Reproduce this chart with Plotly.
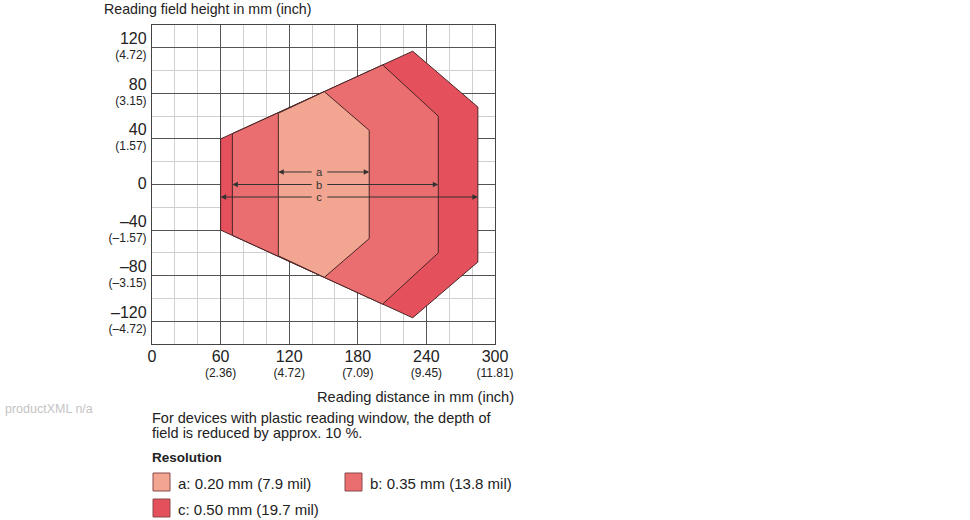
import plotly.graph_objects as go

# ---------------- data ----------------
# reading field outlines (distance mm, field height mm) per resolution
res_names = ["a", "b", "c"]
res_labels = ["a: 0.20 mm (7.9 mil)", "b: 0.35 mm (13.8 mil)", "c: 0.50 mm (19.7 mil)"]
dist_a = [110.5, 150.7, 190.0, 190.0, 150.7, 110.5]
height_a = [62.6, 81.5, 47.5, -47.5, -81.5, -62.6]
dist_b = [70.3, 201.7, 250.4, 250.4, 201.7, 70.3]
height_b = [44.6, 105.0, 60.0, -60.0, -105.0, -44.6]
dist_c = [60.0, 228.0, 285.0, 285.0, 228.0, 60.0]
height_c = [40.0, 117.0, 68.0, -68.0, -117.0, -40.0]

x_tick_vals = [0, 60, 120, 180, 240, 300]
x_tick_inch = ["", "(2.36)", "(4.72)", "(7.09)", "(9.45)", "(11.81)"]
y_tick_vals = [-120, -80, -40, 0, 40, 80, 120]
y_tick_mm = ["–120", "–80", "–40", "0", "40", "80", "120"]
y_tick_inch = ["(–4.72)", "(–3.15)", "(–1.57)", "", "(1.57)", "(3.15)", "(4.72)"]

# ---------------- style ----------------
W, H = 970, 520
ML, MR, MT, MB = 152, 475, 25, 176
PW, PH = W - ML - MR, H - MT - MB
FONT = "Liberation Sans"
TXT = "#222222"
colors = {"a": "#F2A590", "b": "#EA6E70", "c": "#E4505B"}
EDGE = "#4a2626"
MAJOR = "#555555"
MINOR = "#d0d0d0"


def px(x):
    return (x - ML) / PW


def py(y):
    return (H - MB - y) / PH


def tick_text(main, inch):
    if inch:
        return (f"<span style='font-size:16px'>{main}</span><br>"
                f"<span style='font-size:12px'>{inch}</span>")
    return f"<span style='font-size:16px'>{main}</span>"


fig = go.Figure()
shapes_data = {"a": (dist_a, height_a), "b": (dist_b, height_b), "c": (dist_c, height_c)}
for name in ["c", "b", "a"]:
    xs, ys = shapes_data[name]
    fig.add_trace(go.Scatter(
        x=xs + [xs[0]], y=ys + [ys[0]], mode="lines", fill="toself",
        fillcolor=colors[name], line=dict(color=EDGE, width=1),
        showlegend=False, hoverinfo="skip"))

annotations = []
# dimension arrows
arrow_y = {"a": 11, "b": 0, "c": -11}
label_x = 146.5
gap = 5.5
for name in res_names:
    xs, _ = shapes_data[name]
    x0, x1 = min(xs), max(xs)
    yv = arrow_y[name]
    for tip, tail in ((x0, label_x - gap), (x1, label_x + gap)):
        annotations.append(dict(
            x=tip, y=yv, ax=tail, ay=yv, xref="x", yref="y", axref="x", ayref="y",
            text="", showarrow=True, arrowhead=2, arrowsize=1.1, arrowwidth=1,
            arrowcolor="#333333", standoff=0, startstandoff=0))
# the three labels a / b / c stacked in one text block
annotations.append(dict(
    x=label_x, y=arrow_y["b"], xref="x", yref="y",
    text="<br>".join(f"<span style='font-size:11.2px'>{n}</span>" for n in res_names),
    showarrow=False, font=dict(family=FONT, size=9.73, color="#333333"),
    xanchor="center", yanchor="middle", borderpad=0))

# titles and notes
annotations += [
    dict(x=px(102), y=py(9), xref="paper", yref="paper", text="Reading field height in mm (inch)",
         showarrow=False, xanchor="left", yanchor="middle", font=dict(family=FONT, size=14.2, color=TXT)),
    dict(x=px(516), y=py(397), xref="paper", yref="paper", text="Reading distance in mm (inch)",
         showarrow=False, xanchor="right", yanchor="middle", font=dict(family=FONT, size=14.6, color=TXT)),
    dict(x=px(150), y=py(418), xref="paper", yref="paper",
         text="For devices with plastic reading window, the depth of",
         showarrow=False, xanchor="left", yanchor="middle", align="left",
         font=dict(family=FONT, size=14.5, color=TXT)),
    dict(x=px(150), y=py(433), xref="paper", yref="paper",
         text="field is reduced by approx. 10 %.",
         showarrow=False, xanchor="left", yanchor="middle", align="left",
         font=dict(family=FONT, size=14.5, color=TXT)),
    dict(x=px(150), y=py(458), xref="paper", yref="paper", text="<b>Resolution</b>",
         showarrow=False, xanchor="left", yanchor="middle", font=dict(family=FONT, size=13.5, color=TXT)),
    dict(x=px(3), y=py(409), xref="paper", yref="paper", text="productXML n/a",
         showarrow=False, xanchor="left", yanchor="middle", font=dict(family=FONT, size=12.5, color="#c4c4c4")),
]

shapes = []
legend_pos = [(153, 473), (345, 473), (153, 499)]
for name, lab, (lx, ly) in zip(res_names, res_labels, legend_pos):
    shapes.append(dict(type="rect", xref="paper", yref="paper",
                       x0=px(lx), x1=px(lx + 17), y0=py(ly), y1=py(ly + 18),
                       fillcolor=colors[name], line=dict(color="#8a4a4a", width=1)))
    annotations.append(dict(x=px(lx + 23), y=py(ly + 10), xref="paper", yref="paper", text=lab,
                            showarrow=False, xanchor="left", yanchor="middle",
                            font=dict(family=FONT, size=15, color=TXT)))

axis_common = dict(
    showgrid=True, gridcolor=MAJOR, gridwidth=1,
    showline=True, mirror=True, linecolor="#444444", linewidth=1.2,
    zeroline=False, ticks="", tickfont=dict(family=FONT, size=11.5, color=TXT),
    fixedrange=True, layer="below traces",
)

fig.update_layout(
    width=W, height=H, margin=dict(l=ML, r=MR, t=MT, b=MB),
    paper_bgcolor="white", plot_bgcolor="white",
    xaxis=dict(range=[0, 300], tickmode="array", tickvals=x_tick_vals,
               ticktext=[tick_text(v, i) for v, i in zip(x_tick_vals, x_tick_inch)],
               minor=dict(dtick=20, tick0=0, showgrid=True, gridcolor=MINOR, gridwidth=1),
               ticklabelstandoff=3,
               **axis_common),
    yaxis=dict(range=[-140, 140], tickmode="array", tickvals=y_tick_vals,
               ticktext=[tick_text(m, i) for m, i in zip(y_tick_mm, y_tick_inch)],
               minor=dict(dtick=20, tick0=0, showgrid=True, gridcolor=MINOR, gridwidth=1),
               ticklabelstandoff=2,
               **axis_common),
    annotations=annotations, shapes=shapes, showlegend=False,
)

fig.write_html("out.html")
